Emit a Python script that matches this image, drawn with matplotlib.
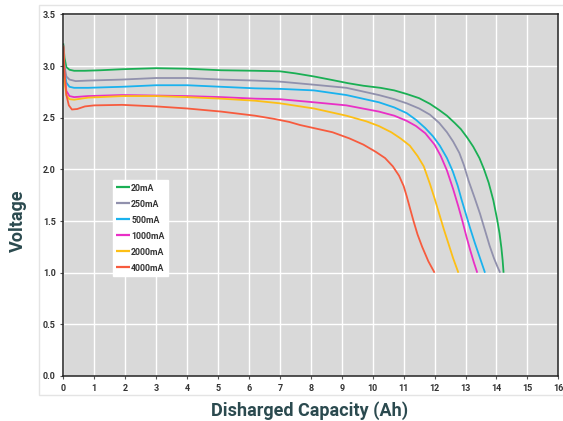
import matplotlib
matplotlib.use("Agg")
import matplotlib.pyplot as plt
from matplotlib.patches import Rectangle

plt.rcParams['font.family'] = ['Roboto', 'DejaVu Sans']

labels = ['20mA', '250mA', '500mA', '1000mA', '2000mA', '4000mA']
colors = ['#1aaf54', '#9191ad', '#1ab2ee', '#e92fc6', '#fdbf15', '#f75b3e']

x_20 = [0, 0.04, 0.1, 0.2, 0.35, 0.7, 1.2, 1.9, 3.0, 4.0, 5.1, 6.2, 7.0, 7.5, 8.1, 8.7, 9.2, 9.7,
        10.25, 10.7, 11.1, 11.5, 11.85, 12.15, 12.4, 12.65, 12.85, 13.05, 13.25, 13.45, 13.6, 13.75,
        13.9, 14.02, 14.1, 14.16, 14.2, 14.23]
y_20 = [3.22, 3.08, 2.99, 2.965, 2.955, 2.955, 2.96, 2.97, 2.98, 2.975, 2.96, 2.955, 2.95, 2.93, 2.90,
        2.865, 2.835, 2.81, 2.79, 2.765, 2.73, 2.69, 2.635, 2.575, 2.52, 2.45, 2.39, 2.31, 2.22, 2.11,
        2.00, 1.87, 1.70, 1.52, 1.38, 1.24, 1.12, 1.0]

x_250 = [0, 0.04, 0.1, 0.2, 0.4, 0.8, 1.9, 3.0, 4.0, 5.1, 6.2, 7.0, 8.1, 9.15, 10.2, 10.7, 11.1, 11.5,
         11.85, 12.15, 12.4, 12.6, 12.8, 12.95, 13.1, 13.3, 13.47, 13.62, 13.78, 13.92, 14.03, 14.12]
y_250 = [3.2, 3.0, 2.9, 2.87, 2.855, 2.86, 2.87, 2.885, 2.885, 2.87, 2.86, 2.85, 2.82, 2.79, 2.72,
         2.68, 2.64, 2.59, 2.53, 2.45, 2.36, 2.27, 2.16, 2.04, 1.89, 1.72, 1.57, 1.42, 1.26, 1.14,
         1.06, 1.0]

x_500 = [0, 0.04, 0.1, 0.2, 0.35, 0.8, 1.9, 3.0, 4.0, 5.1, 6.2, 7.0, 8.1, 9.15, 10.2, 10.7, 11.1,
         11.4, 11.7, 11.95, 12.17, 12.4, 12.59, 12.75, 12.87, 13.0, 13.14, 13.3, 13.47, 13.63]
y_500 = [3.2, 2.95, 2.84, 2.80, 2.79, 2.79, 2.80, 2.815, 2.815, 2.80, 2.785, 2.78, 2.765, 2.72, 2.65,
         2.60, 2.545, 2.48, 2.40, 2.32, 2.23, 2.11, 1.98, 1.84, 1.71, 1.58, 1.44, 1.29, 1.14, 1.0]

x_1000 = [0, 0.04, 0.1, 0.2, 0.35, 0.8, 1.9, 3.0, 4.0, 5.1, 6.2, 7.0, 8.1, 9.15, 10.2, 10.7, 11.1,
          11.4, 11.7, 12.0, 12.2, 12.4, 12.6, 12.77, 12.9, 13.03, 13.15, 13.27, 13.38]
y_1000 = [3.2, 2.9, 2.76, 2.71, 2.70, 2.71, 2.72, 2.715, 2.71, 2.70, 2.685, 2.68, 2.65, 2.62, 2.56,
          2.52, 2.47, 2.42, 2.35, 2.24, 2.13, 1.99, 1.81, 1.64, 1.50, 1.35, 1.22, 1.10, 1.0]

x_2000 = [0, 0.04, 0.1, 0.2, 0.35, 0.8, 1.9, 3.0, 4.0, 5.1, 6.2, 7.0, 8.1, 9.15, 9.8, 10.2, 10.6,
          10.9, 11.2, 11.45, 11.65, 11.85, 12.0, 12.17, 12.3, 12.44, 12.6, 12.77]
y_2000 = [3.2, 2.85, 2.72, 2.68, 2.675, 2.695, 2.71, 2.71, 2.70, 2.685, 2.665, 2.64, 2.59, 2.52,
          2.465, 2.42, 2.36, 2.30, 2.23, 2.13, 2.03, 1.86, 1.72, 1.55, 1.42, 1.29, 1.14, 1.0]

x_4000 = [0, 0.04, 0.1, 0.18, 0.28, 0.45, 0.7, 1.0, 1.9, 3.0, 4.0, 5.1, 6.2, 6.8, 7.3, 7.65, 8.1,
          8.7, 9.25, 9.7, 10.1, 10.4, 10.65, 10.85, 11.0, 11.1, 11.2, 11.32, 11.45, 11.6, 11.8, 12.0]
y_4000 = [3.19, 2.95, 2.72, 2.62, 2.58, 2.585, 2.61, 2.62, 2.625, 2.61, 2.59, 2.56, 2.52, 2.49, 2.46,
          2.43, 2.40, 2.36, 2.30, 2.24, 2.17, 2.11, 2.03, 1.94, 1.84, 1.74, 1.63, 1.50, 1.37, 1.25,
          1.11, 1.0]

series_x = [x_20, x_250, x_500, x_1000, x_2000, x_4000]
series_y = [y_20, y_250, y_500, y_1000, y_2000, y_4000]

x_ticks = list(range(0, 17))
y_ticks = [0.0, 0.5, 1.0, 1.5, 2.0, 2.5, 3.0, 3.5]

fig = plt.figure(figsize=(5.63, 4.21), dpi=100)
panel = Rectangle((0.0693, 0.0618), 1.0, 0.926, transform=fig.transFigure,
                  facecolor='white', edgecolor='#e4e4e4', linewidth=1.0, zorder=-10)
fig.patches.append(panel)

ax = fig.add_axes([0.1124, 0.1069, 0.8793, 0.8587])
ax.set_zorder(5)
ax.set_facecolor('#d9d9d9')
ax.set_xlim(0, 16)
ax.set_ylim(0, 3.5)
ax.set_xticks(x_ticks)
ax.set_yticks(y_ticks)
ax.set_xticklabels([str(t) for t in x_ticks])
ax.set_yticklabels([f'{t:.1f}' for t in y_ticks])
ax.grid(True, color='white', linewidth=1.0)
ax.set_axisbelow(True)
for s in ax.spines.values():
    s.set_color('#222222')
    s.set_linewidth(1.1)
ax.tick_params(axis='both', length=2.5, width=0.8, color='#555555', labelsize=6.5,
               labelcolor='#333333', pad=3)
for lab in ax.get_xticklabels() + ax.get_yticklabels():
    lab.set_fontweight('bold')

for xs, ys, c, l in zip(series_x, series_y, colors, labels):
    ax.plot(xs, ys, color=c, linewidth=1.3, label=l, solid_capstyle='butt')

leg = ax.legend(loc='upper left', bbox_to_anchor=(0.1, 0.542), frameon=True, fancybox=False,
                framealpha=1.0, edgecolor='white', facecolor='white', fontsize=6.3,
                handlelength=1.6, handletextpad=0.1, labelspacing=0.8, borderpad=0.4,
                borderaxespad=0)
for t in leg.get_texts():
    t.set_fontweight('bold')
    t.set_color('#333333')
for h in leg.get_lines():
    h.set_linewidth(1.6)

fig.text(0.55, 0.025, 'Disharged Capacity (Ah)', ha='center', va='center', fontsize=13,
         fontweight='bold', color='#2b4a4f')
fig.text(0.032, 0.475, 'Voltage', ha='center', va='center', rotation=90, fontsize=13,
         fontweight='bold', color='#2b4a4f')

fig.savefig('out.png', dpi=100)
